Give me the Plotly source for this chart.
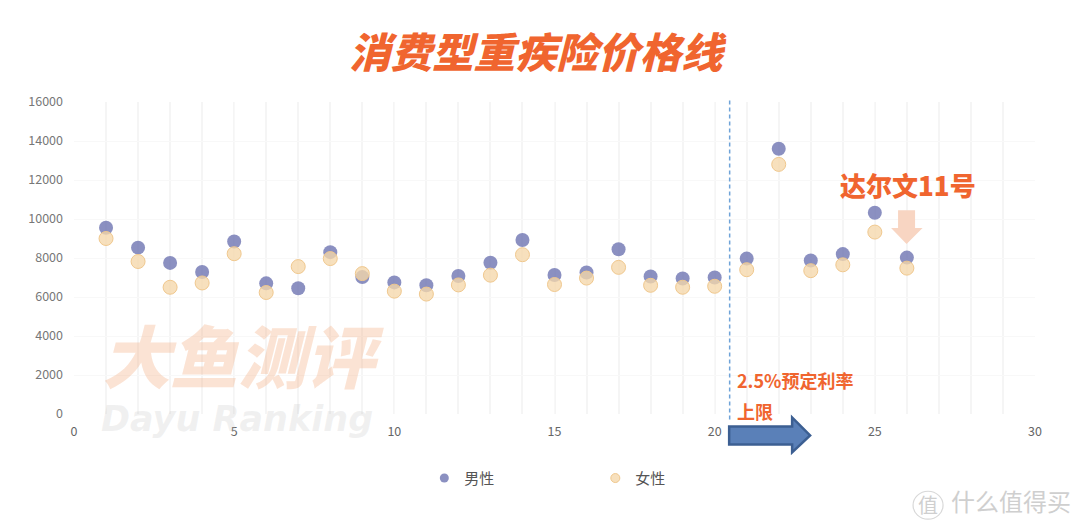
import plotly.graph_objects as go

rank = list(range(1, 27))
male = [9550, 8530, 7750, 7280, 8850, 6700, 6450, 8300, 7020, 6750, 6600, 7080, 7760,
        8920, 7130, 7260, 8450, 7050, 6950, 7000, 7970, 13600, 7870, 8200, 10320, 8020]
female = [9000, 7820, 6500, 6720, 8220, 6230, 7560, 7970, 7200, 6300, 6150, 6620, 7120,
          8170, 6640, 6970, 7520, 6600, 6500, 6550, 7400, 12800, 7350, 7650, 9330, 7480]
x_ticks = [0, 5, 10, 15, 20, 25, 30]
y_ticks = list(range(0, 16001, 2000))

W, H = 1080, 530
L, R, T, B = 73.5, 1035, 101.5, 414.5
CJK = "Noto Sans CJK SC"
ORANGE = "#f0652f"
MALE_FILL = "rgba(106,113,176,0.78)"
FEMALE_FILL = "rgba(245,215,170,0.78)"
FEMALE_EDGE = "#f0c88e"


def px(x):
    return (x - L) / (R - L)


def py(y):
    return (B - y) / (B - T)


def path(points):
    return "M " + " L ".join(f"{px(a):.5f},{py(b):.5f}" for a, b in points) + " Z"


def note(x, y, text, size, color, anchor="center", family=CJK, weight=400, style="normal"):
    return dict(xref="paper", yref="paper", x=px(x), y=py(y), text=text, showarrow=False,
                xanchor=anchor, yanchor="middle",
                font=dict(family=family, size=size, color=color, weight=weight, style=style))


fig = go.Figure()
fig.add_trace(go.Scatter(x=rank, y=male, mode="markers", name="男性", showlegend=False,
                         marker=dict(size=14, color=MALE_FILL, line=dict(width=0))))
fig.add_trace(go.Scatter(x=rank, y=female, mode="markers", name="女性", showlegend=False,
                         marker=dict(size=14, color=FEMALE_FILL, line=dict(width=1, color=FEMALE_EDGE))))
# legend keys, smaller than the plotted points as in the reference
fig.add_trace(go.Scatter(x=[None], y=[None], mode="markers", name="男性",
                         marker=dict(size=9, color=MALE_FILL, line=dict(width=0))))
fig.add_trace(go.Scatter(x=[None], y=[None], mode="markers", name="女性",
                         marker=dict(size=9, color=FEMALE_FILL, line=dict(width=1, color=FEMALE_EDGE))))

shapes = [
    dict(type="line", xref="paper", yref="paper", x0=px(729.5), x1=px(729.5), y0=py(100), y1=py(420),
         line=dict(color="#6fa3d8", width=1.5, dash="4px,3px")),
    dict(type="path", xref="paper", yref="paper",
         path=path([(729, 427), (792, 427), (792, 418), (810, 436), (792, 453), (792, 445), (729, 445)]),
         fillcolor="#5a80b8", line=dict(color="#3c5f92", width=2.5)),
    dict(type="path", xref="paper", yref="paper",
         path=path([(898, 210), (915, 210), (915, 228), (922.5, 228), (906.5, 244), (891, 228), (898, 228)]),
         fillcolor="#f8d5c2", line=dict(width=0)),
    dict(type="circle", xref="paper", yref="paper", x0=px(913), x1=px(943), y0=py(492), y1=py(520),
         line=dict(color="#d8d8d8", width=1.2)),
]

annotations = [
    note(537.5, 49, "消费型重疾险价格线", 41.5, ORANGE, weight=900, style="italic"),
    note(908, 184, "达尔文11号", 26, ORANGE, weight=900),
    note(735, 380, "2.5%预定利率", 18, ORANGE, anchor="left", weight=700),
    note(735, 411, "上限", 18, ORANGE, anchor="left", weight=700),
    note(243, 354, "大鱼测评", 68, "rgba(243,170,125,0.33)", weight=900, style="italic"),
    note(237, 420, "Dayu Ranking", 35, "rgba(190,190,190,0.22)", family="DejaVu Sans", weight=700, style="italic"),
    note(928, 505, "值", 20, "#cfcfcf"),
    note(1011, 501, "什么值得买", 24, "#cfcfcf"),
]

fig.update_layout(
    width=W, height=H, autosize=False,
    margin=dict(l=L, r=W - R, t=T, b=H - B, pad=0),
    paper_bgcolor="white", plot_bgcolor="white",
    font=dict(family=CJK, color="#666666", size=12.5),
    shapes=shapes, annotations=annotations,
    showlegend=True,
    legend=dict(orientation="h", x=px(424), y=py(479), xanchor="left", yanchor="middle",
                font=dict(size=15, color="#555555"), itemsizing="trace",
                entrywidth=126, entrywidthmode="pixels", traceorder="normal"),
    xaxis=dict(range=[0, 30], tickvals=x_ticks, showline=False, zeroline=False, ticks="",
               ticklabelstandoff=8,
               gridcolor="#f8f8f8", gridwidth=1, tickfont=dict(size=12.5, color="#666666"),
               minor=dict(dtick=1, tick0=0, showgrid=True, gridcolor="#f5f5f5", gridwidth=2, ticks="")),
    yaxis=dict(range=[0, 16000], tickvals=y_ticks, tickformat="d", showline=False, zeroline=False, ticks="",
               ticklabelstandoff=10,
               gridcolor="#f8f8f8", gridwidth=1, tickfont=dict(size=12.5, color="#777777")),
)

fig.write_html("out.html", config=dict(displayModeBar=False),
               post_script="document.body.style.margin='0';window.dispatchEvent(new Event('resize'));")
